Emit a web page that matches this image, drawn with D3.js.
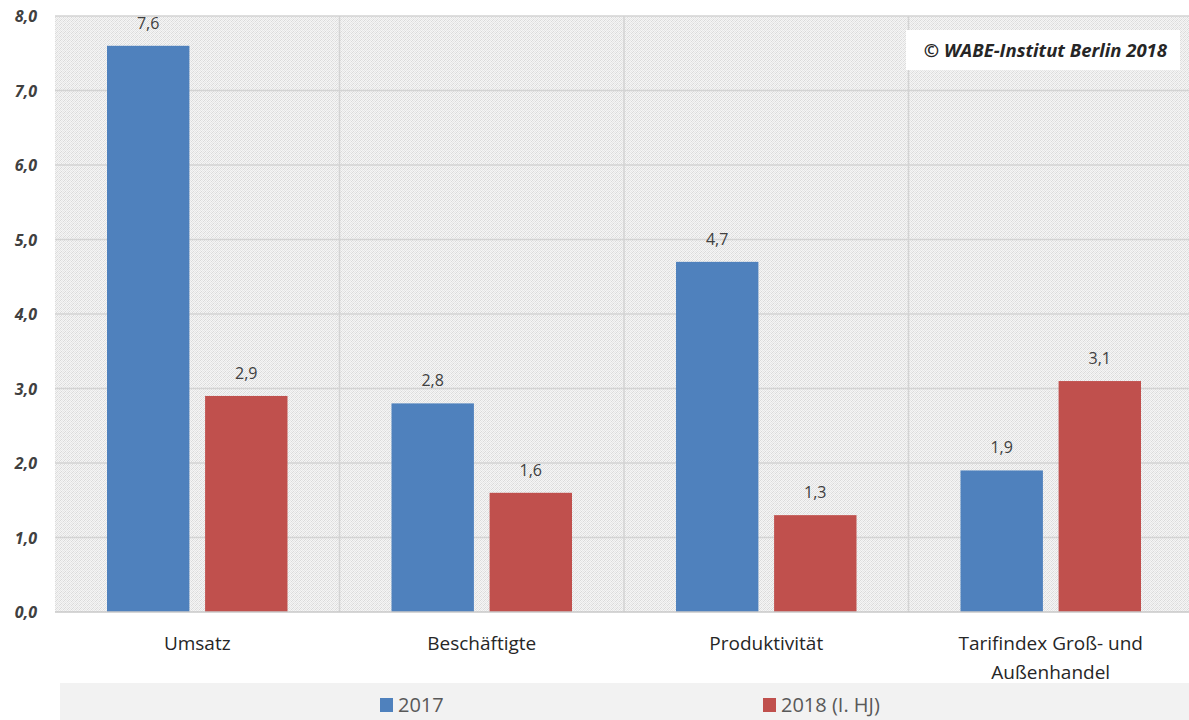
<!DOCTYPE html>
<html>
<head>
<meta charset="utf-8">
<script src="https://cdn.jsdelivr.net/npm/d3@7"></script>
<style>
  html, body { margin: 0; padding: 0; background: #ffffff; }
  svg { display: block; }
</style>
</head>
<body>
<svg id="chart" width="1189" height="720"></svg>
<script>
// Growth indicators, wholesale & foreign trade (values in %)
const categories = [["Umsatz"], ["Beschäftigte"], ["Produktivität"], ["Tarifindex Groß- und", "Außenhandel"]];
const seriesNames = ["2017", "2018 (I. HJ)"];
const values2017 = [7.6, 2.8, 4.7, 1.9];
const values2018 = [2.9, 1.6, 1.3, 3.1];
const yTicks = [0, 1, 2, 3, 4, 5, 6, 7, 8];
const copyright = "© WABE-Institut Berlin 2018";

const colors = ["#4f81bd", "#c0504d"];
const font = "'Open Sans', 'Noto Sans', sans-serif";

const svg = d3.select("#chart");
const W = 1189, H = 720;
const plot = { left: 55, right: 1193, top: 16, bottom: 612 };

// Fine dither texture for the plot background
const defs = svg.append("defs");
const pat = defs.append("pattern")
  .attr("id", "dither").attr("width", 4).attr("height", 4)
  .attr("patternUnits", "userSpaceOnUse");
pat.append("rect").attr("width", 4).attr("height", 4).attr("fill", "#f5f5f5");
[[0,0],[2,0],[1,1],[3,1],[0,2],[2,2],[1,3],[3,3]].forEach(([x, y], i) => {
  pat.append("rect").attr("x", x).attr("y", y).attr("width", 1).attr("height", 1)
    .attr("fill", i % 3 === 0 ? "#dadada" : "#e6e6e6");
});

const y = d3.scaleLinear().domain([0, 8]).range([plot.bottom, plot.top]);
const x = d3.scaleBand().domain(d3.range(categories.length))
  .range([plot.left, plot.right]).padding(0);
const sub = d3.scaleBand().domain([0, 1])
  .range([52, x.bandwidth() - 52]).paddingInner(0.16);

svg.append("rect")
  .attr("x", plot.left).attr("y", plot.top)
  .attr("width", plot.right - plot.left).attr("height", plot.bottom - plot.top)
  .attr("fill", "url(#dither)");

// Horizontal gridlines
svg.append("g").selectAll("line").data(yTicks.slice(1)).join("line")
  .attr("x1", plot.left).attr("x2", plot.right)
  .attr("y1", d => y(d)).attr("y2", d => y(d))
  .attr("stroke", "#d3d3d3").attr("stroke-width", 1.5);

// Vertical category separators
svg.append("g").selectAll("line").data(d3.range(1, categories.length)).join("line")
  .attr("x1", d => x(d)).attr("x2", d => x(d))
  .attr("y1", plot.top).attr("y2", plot.bottom)
  .attr("stroke", "#d3d3d3").attr("stroke-width", 1.5);

// Y axis labels
const fmt = d => d3.format(".1f")(d).replace(".", ",");
svg.append("g").selectAll("text").data(yTicks).join("text")
  .attr("x", 37).attr("y", d => y(d) + 6)
  .attr("text-anchor", "end")
  .attr("font-family", font).attr("font-size", 16)
  .attr("font-weight", "bold").attr("font-style", "italic")
  .attr("fill", "#404040")
  .text(fmt);

// Bars
const series = [values2017, values2018];
series.forEach((vals, s) => {
  const g = svg.append("g");
  g.selectAll("rect").data(vals).join("rect")
    .attr("x", (d, i) => x(i) + sub(s))
    .attr("y", d => y(d))
    .attr("width", sub.bandwidth())
    .attr("height", d => y(0) - y(d))
    .attr("fill", colors[s]);
  g.selectAll("text").data(vals).join("text")
    .attr("x", (d, i) => x(i) + sub(s) + sub.bandwidth() / 2)
    .attr("y", d => y(d) - 17)
    .attr("text-anchor", "middle")
    .attr("font-family", font).attr("font-size", 16)
    .attr("fill", "#404040")
    .text(fmt);
});

// Baseline
svg.append("line")
  .attr("x1", plot.left).attr("x2", plot.right)
  .attr("y1", y(0)).attr("y2", y(0))
  .attr("stroke", "#c8c8c8").attr("stroke-width", 1.5);

// Category labels
svg.append("g").selectAll("text").data(categories).join("text")
  .attr("x", (d, i) => x(i) + x.bandwidth() / 2)
  .attr("y", 650)
  .attr("text-anchor", "middle")
  .attr("font-family", font).attr("font-size", 19)
  .attr("fill", "#262626")
  .selectAll("tspan").data(d => d).join("tspan")
  .attr("x", function() { return d3.select(this.parentNode).attr("x"); })
  .attr("dy", (d, i) => i === 0 ? 0 : 29)
  .text(d => d);

// Legend band
svg.append("rect")
  .attr("x", 60).attr("y", 683).attr("width", W - 60).attr("height", 37)
  .attr("fill", "#f2f2f2");
const legendX = [380, 763];
const lg = svg.append("g").selectAll("g").data(seriesNames).join("g")
  .attr("transform", (d, i) => `translate(${legendX[i]},705)`);
lg.append("rect").attr("x", 0).attr("y", -7).attr("width", 13).attr("height", 14)
  .attr("fill", (d, i) => colors[i]);
lg.append("text").attr("x", 18).attr("y", 7)
  .attr("font-family", font).attr("font-size", 20)
  .attr("fill", "#595959")
  .text(d => d);

// Copyright box
svg.append("rect")
  .attr("x", 906).attr("y", 30).attr("width", 274).attr("height", 40)
  .attr("fill", "#ffffff");
svg.append("text")
  .attr("x", 1167).attr("y", 57)
  .attr("text-anchor", "end")
  .attr("font-family", font).attr("font-size", 18.5)
  .attr("font-weight", "bold").attr("font-style", "italic")
  .attr("fill", "#262626")
  .text(copyright);
</script>
</body>
</html>
